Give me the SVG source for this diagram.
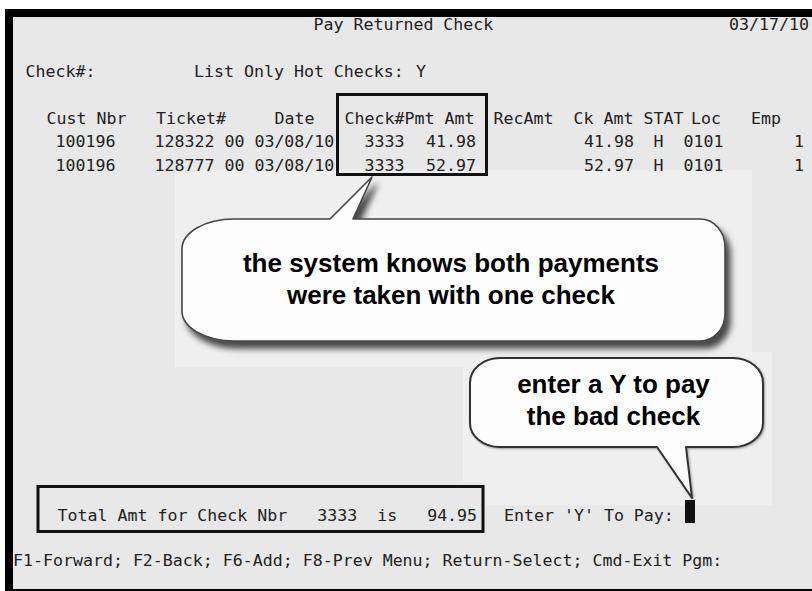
<svg xmlns="http://www.w3.org/2000/svg" width="812" height="591" viewBox="0 0 812 591">
<style>
.mono{font-family:"DejaVu Sans Mono","Liberation Mono",monospace;font-size:16.6px;fill:#222}
.call{font-family:"Liberation Sans",Arial,sans-serif;font-weight:bold;font-size:26px;fill:#000;text-anchor:middle}
.hl{fill:none;stroke:#111;stroke-width:3}
.bubble{fill:#fdfdfd;stroke:#444;stroke-width:1.6;stroke-linejoin:round}
</style>
<defs>
<filter id="shadow" x="-5%" y="-10%" width="115%" height="130%">
<feDropShadow dx="5" dy="7" stdDeviation="3" flood-color="#000" flood-opacity="0.7"/>
</filter>
<filter id="soft" x="-5%" y="-10%" width="115%" height="130%">
<feDropShadow dx="1" dy="1" stdDeviation="1.2" flood-color="#000" flood-opacity="0.35"/>
</filter>
</defs>
<rect width="812" height="591" fill="#fff"/>
<g id="screen">
<rect x="5" y="9" width="807" height="582" fill="#e8e8e8"/>
<rect x="175" y="170" width="577" height="197" fill="#efefef"/>
<path d="M463,352 L772,352 L772,505 L486,505 L486,482 L463,482 Z" fill="#efefef"/>
<rect x="5" y="9" width="807" height="8" fill="#000"/>
<rect x="5" y="9" width="8" height="582" fill="#000"/>
<rect x="5" y="589" width="807" height="2" fill="#000"/>
<text class="mono" x="313.5" y="29.5">Pay Returned Check</text>
<text class="mono" x="729" y="29.5">03/17/10</text>
<text class="mono" x="25.5" y="77">Check#:</text>
<text class="mono" x="194" y="77">List Only Hot Checks:</text>
<text class="mono" x="416" y="77">Y</text>
<text class="mono" x="46.5" y="123.5">Cust Nbr</text>
<text class="mono" x="156" y="123.5">Ticket#</text>
<text class="mono" x="274.5" y="123.5">Date</text>
<text class="mono" x="344.5" y="123.5">Check#Pmt Amt</text>
<text class="mono" x="493.5" y="123.5">RecAmt</text>
<text class="mono" x="573.5" y="123.5">Ck Amt</text>
<text class="mono" x="643.5" y="123.5">STAT</text>
<text class="mono" x="691" y="123.5">Loc</text>
<text class="mono" x="751" y="123.5">Emp</text>
<text class="mono" x="55.5" y="147">100196</text>
<text class="mono" x="154.5" y="147">128322 00 03/08/10</text>
<text class="mono" x="364.5" y="147">3333</text>
<text class="mono" x="426" y="147">41.98</text>
<text class="mono" x="584" y="147">41.98</text>
<text class="mono" x="653.5" y="147">H</text>
<text class="mono" x="683.5" y="147">0101</text>
<text class="mono" x="794" y="147">1</text>
<text class="mono" x="55.5" y="170.5">100196</text>
<text class="mono" x="154.5" y="170.5">128777 00 03/08/10</text>
<text class="mono" x="364.5" y="170.5">3333</text>
<text class="mono" x="426" y="170.5">52.97</text>
<text class="mono" x="584" y="170.5">52.97</text>
<text class="mono" x="653.5" y="170.5">H</text>
<text class="mono" x="683.5" y="170.5">0101</text>
<text class="mono" x="794" y="170.5">1</text>
<text class="mono" x="57.5" y="520.5" xml:space="preserve">Total Amt for Check Nbr   3333  is   94.95</text>
<text class="mono" x="504" y="520.5">Enter 'Y' To Pay:</text>
<rect x="685" y="500" width="10" height="23" fill="#111"/>
<text class="mono" x="13" y="566">F1-Forward; F2-Back; F6-Add; F8-Prev Menu; Return-Select; Cmd-Exit Pgm:</text>
</g>
<g id="hl-check"><rect class="hl" x="337.5" y="94.5" width="149" height="80"/></g>
<g id="hl-total"><rect class="hl" x="38" y="486.5" width="445" height="45"/></g>
<g id="callout-1">
<path class="bubble" filter="url(#shadow)" d="M234,219 L330,219 L372,177 L353,219 L700,219 A25,28 0 0 1 725,247 L725,314 A25,27 0 0 1 700,341 L234,341 A52,30 0 0 1 182,311 L182,249 A52,30 0 0 1 234,219 Z"/>
<text class="call" x="451" y="272">the system knows both payments</text>
<text class="call" x="451" y="303.5">were taken with one check</text>
</g>
<g id="callout-2">
<path class="bubble" filter="url(#soft)" style="stroke:#333;stroke-width:2" d="M500,358 L733,358 A30,25 0 0 1 763,383 L763,423 A30,24 0 0 1 733,447 L686,447 L692,498 L657,447 L500,447 A30,24 0 0 1 470,423 L470,383 A30,25 0 0 1 500,358 Z"/>
<text class="call" x="613.5" y="393">enter a Y to pay</text>
<text class="call" x="613.5" y="425">the bad check</text>
</g>
</svg>
